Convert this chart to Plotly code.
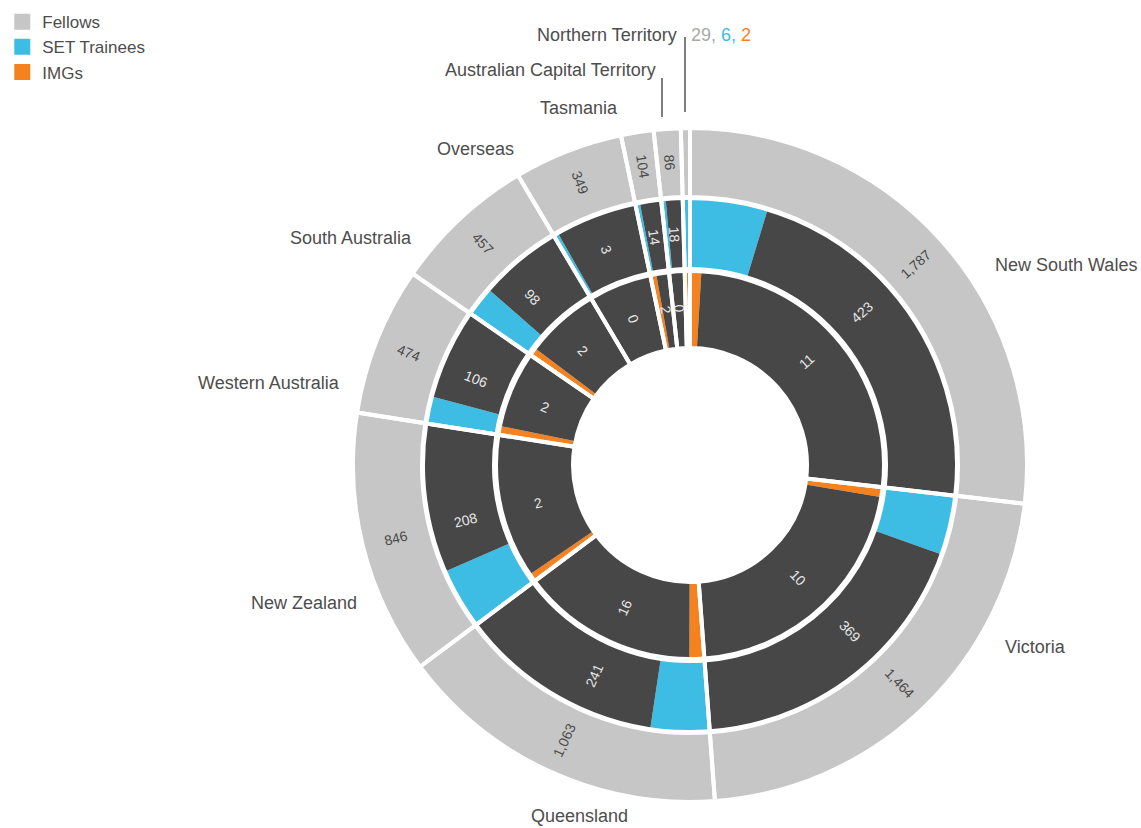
import math
import plotly.graph_objects as go

# ---------------- data ----------------
regions = ["New South Wales", "Victoria", "Queensland", "New Zealand",
           "Western Australia", "South Australia", "Overseas", "Tasmania",
           "Australian Capital Territory", "Northern Territory"]
fellows = [1787, 1464, 1063, 846, 474, 457, 349, 104, 86, 29]
set_trainees = [423, 369, 241, 208, 106, 98, 3, 14, 18, 6]
imgs = [11, 10, 16, 2, 2, 2, 0, 2, 0, 2]
# visible share of each region's arc filled blue / orange (as drawn in the picture)
set_arc_share = [0.175, 0.164, 0.223, 0.29, 0.23, 0.263, 0.055, 0.18, 0.21, 0.75]
img_arc_share = [0.035, 0.037, 0.077, 0.053, 0.105, 0.097, 0.0, 0.32, 0.0, 0.75]
# regions whose slice is too thin for an inside label
inside_label = [True] * 9 + [False]

# ---------------- styling ----------------
GREY = "#c6c6c6"
DARK = "#474747"
BLUE = "#3dbde4"
ORANGE = "#f5821f"
CLEAR = "rgba(0,0,0,0)"
FONT = "Liberation Sans, Arial, Helvetica, sans-serif"
W, H = 1141, 828
CX, CY = 690, 465
# pie (outer radius, hole radius) in px; white 4px outlines trim 2px off each edge
RINGS = {"outer": (337, 268), "middle": (267, 194), "inner": (196, 117)}


def domain(r):
    return dict(x=[(CX - r) / W, (CX + r) / W], y=[1 - (CY + r) / H, 1 - (CY - r) / H])


common = dict(sort=False, direction="clockwise", rotation=0, showlegend=False)

fig = go.Figure()

# --- coloured rings ---
ro, ho = RINGS["outer"]
fig.add_trace(go.Pie(labels=[f"F {r}" for r in regions], values=fellows,
                     marker=dict(colors=[GREY] * len(regions), line=dict(width=0)),
                     hole=ho / ro, domain=domain(ro), textinfo="none",
                     hoverinfo="skip", **common))

mid_labels, mid_vals, mid_cols = [], [], []
inn_labels, inn_vals, inn_cols = [], [], []
for r, f, s, i in zip(regions, fellows, set_arc_share, img_arc_share):
    mid_labels += [f"S {r}", f"S- {r}"]
    mid_vals += [f * s, f * (1 - s)]
    mid_cols += [BLUE, DARK]
    inn_labels += [f"I {r}", f"I- {r}"]
    inn_vals += [f * i, f * (1 - i)]
    inn_cols += [ORANGE, DARK]

rm, hm = RINGS["middle"]
fig.add_trace(go.Pie(labels=mid_labels, values=mid_vals,
                     marker=dict(colors=mid_cols, line=dict(width=0)),
                     hole=hm / rm, domain=domain(rm), textinfo="none",
                     hoverinfo="skip", **common))
ri, hi = RINGS["inner"]
fig.add_trace(go.Pie(labels=inn_labels, values=inn_vals,
                     marker=dict(colors=inn_cols, line=dict(width=0)),
                     hole=hi / ri, domain=domain(ri), textinfo="none",
                     hoverinfo="skip", **common))

# --- region overlays: white separators between regions ---
for key, tag in [("outer", "o"), ("middle", "m"), ("inner", "i")]:
    r_out, r_in = RINGS[key]
    fig.add_trace(go.Pie(labels=[f"{tag} {r}" for r in regions], values=fellows,
                         marker=dict(colors=[CLEAR] * len(regions),
                                     line=dict(color="white", width=4)),
                         hole=r_in / r_out, domain=domain(r_out), textinfo="none",
                         hoverinfo="skip", **common))

# --- value labels, radial, at the middle of each region's arc ---
total = sum(fellows)
cum = 0.0
mid_angles = []
for f in fellows:
    mid_angles.append((cum + f / 2) / total * 360.0)
    cum += f

for key, counts, tcolor in [("outer", fellows, "#4a4a4a"),
                            ("middle", set_trainees, "#e6e6e6"),
                            ("inner", imgs, "#e6e6e6")]:
    r_out, r_in = RINGS[key]
    r_txt = (r_out + r_in) / 2
    for c, ang, show in zip(counts, mid_angles, inside_label):
        if not show:
            continue
        rad = math.radians(ang)
        px = CX + r_txt * math.sin(rad)
        py = CY - r_txt * math.cos(rad)
        tangle = ang - 90 if ang < 180 else ang - 270
        fig.add_annotation(x=px / W, y=1 - py / H, xref="paper", yref="paper",
                           text=f"{c:,}", showarrow=False, textangle=tangle,
                           xanchor="center", yanchor="middle",
                           font=dict(size=14, color=tcolor, family=FONT))

# --- legend entries ---
for name, col in [("Fellows", GREY), ("SET Trainees", BLUE), ("IMGs", ORANGE)]:
    fig.add_trace(go.Scatter(x=[None], y=[None], mode="markers", name=name,
                             marker=dict(symbol="square", size=18, color=col)))

# --- region name labels ---
label_pos = {
    "New South Wales": (993, 265, "left"),
    "Victoria": (1003, 647, "left"),
    "Queensland": (579, 816, "center"),
    "New Zealand": (359, 603, "right"),
    "Western Australia": (342, 383, "right"),
    "South Australia": (414, 238, "right"),
    "Overseas": (516, 149, "right"),
    "Tasmania": (620, 108, "right"),
    "Australian Capital Territory": (658, 70, "right"),
    "Northern Territory": (679, 35, "right"),
}
for name in regions:
    px, py, anchor = label_pos[name]
    fig.add_annotation(x=px / W, y=1 - py / H, xref="paper", yref="paper",
                       text=name, showarrow=False, xanchor=anchor, yanchor="middle",
                       font=dict(size=18, color="#4d4d4d", family=FONT))

nt = regions.index("Northern Territory")
fig.add_annotation(x=689 / W, y=1 - 35 / H, xref="paper", yref="paper",
                   text=(f'<span style="color:#a9a9a9">{fellows[nt]}, </span>'
                         f'<span style="color:{BLUE}">{set_trainees[nt]}, </span>'
                         f'<span style="color:{ORANGE}">{imgs[nt]}</span>'),
                   showarrow=False, xanchor="left", yanchor="middle",
                   font=dict(size=18, family=FONT))

# leader lines for the thin top slices
for x0, y0, y1 in [(685, 37, 112), (662, 78, 117)]:
    fig.add_shape(type="line", xref="paper", yref="paper",
                  x0=x0 / W, x1=x0 / W, y0=1 - y0 / H, y1=1 - y1 / H,
                  line=dict(color="#555555", width=1.5))

fig.update_layout(
    width=W, height=H, margin=dict(l=0, r=0, t=0, b=0),
    paper_bgcolor="white", plot_bgcolor="white",
    font=dict(family=FONT, color="#4d4d4d"),
    xaxis=dict(visible=False), yaxis=dict(visible=False),
    legend=dict(x=0.002, y=0.995, xanchor="left", yanchor="top",
                font=dict(size=17, color="#4d4d4d", family=FONT),
                bgcolor="rgba(0,0,0,0)", tracegroupgap=0, itemwidth=30),
)

fig.write_html("out.html", config={"displayModeBar": False},
               post_script="document.body.style.margin='0';document.body.style.overflow='hidden';")
